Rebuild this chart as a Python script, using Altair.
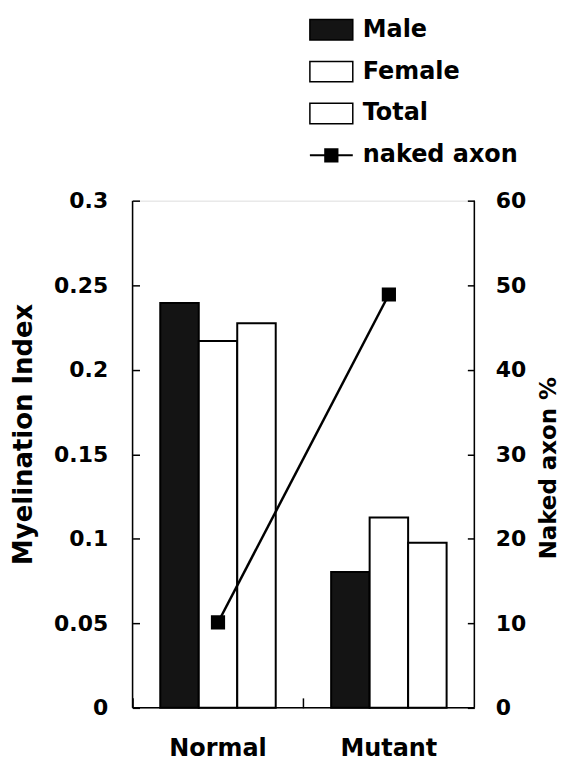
import altair as alt
import pandas as pd

groups = ["Normal", "Mutant"]
series = ["Male", "Female", "Total"]
male = [0.2395, 0.0803]
female = [0.217, 0.1126]
total = [0.2275, 0.0977]
naked_axon = [10.1, 48.9]

W, H = 343, 509
FONT = "DejaVu Sans"

rows = []
for i, g in enumerate(groups):
    for s, vals in zip(series, [male, female, total]):
        rows.append({"group": g, "sex": s, "value": vals[i]})
bars_df = pd.DataFrame(rows)
line_df = pd.DataFrame({"group": groups, "pct": naked_axon, "series": ["naked axon"] * 2})
one = pd.DataFrame({"k": [0]})

xscale = alt.Scale(domain=groups, paddingInner=0, paddingOuter=0)
xaxis = alt.Axis(title=None, offset=-10, domain=False, tickSize=10, tickColor="black",
                 tickWidth=1.5, bandPosition=0, labelFont=FONT, labelFontSize=24,
                 labelFontWeight="bold", labelColor="black", labelPadding=29, labelAngle=0)

bars = alt.Chart(bars_df).mark_bar(stroke="black", strokeWidth=2).encode(
    x=alt.X("group:N", scale=xscale, axis=xaxis, sort=groups),
    xOffset=alt.XOffset("sex:N", scale=alt.Scale(domain=series, paddingInner=0, paddingOuter=0.72)),
    y=alt.Y("value:Q", scale=alt.Scale(domain=[0, 0.3], nice=False),
            axis=alt.Axis(values=[0, 0.05, 0.1, 0.15, 0.2, 0.25, 0.3], format="~g",
                          title="Myelination Index",
                          offset=-7, domain=False, tickSize=7, tickColor="black", tickWidth=1.5,
                          grid=False, labelFont=FONT, labelFontSize=22, labelFontWeight="bold",
                          labelColor="black", labelPadding=25,
                          titleFont=FONT, titleFontSize=26, titleFontWeight="bold", titleColor="black",
                          titleX=-116, titleY=234, titleAngle=-90, titleAlign="center",
                          titleBaseline="middle")),
    fill=alt.Fill("sex:N", scale=alt.Scale(domain=series, range=["#141414", "white", "white"]),
                  legend=alt.Legend(title=None, orient="none", legendX=178, legendY=-193,
                                    symbolType="M-1.05,-0.5H1.05V0.5H-1.05Z", symbolSize=1681,
                                    symbolStrokeColor="black", symbolStrokeWidth=1.5,
                                    labelFont=FONT, labelFontSize=24, labelFontWeight="bold",
                                    labelColor="black", labelOffset=10, rowPadding=7, padding=0)),
)

line = alt.Chart(line_df).mark_line(
    strokeWidth=2.5,
    point=alt.OverlayMarkDef(shape="square", size=150, filled=True, fill="black", stroke="black"),
).encode(
    x=alt.X("group:N", scale=xscale, axis=xaxis, sort=groups),
    y=alt.Y("pct:Q", scale=alt.Scale(domain=[0, 60], nice=False),
            axis=alt.Axis(values=[0, 10, 20, 30, 40, 50, 60], title="Naked axon %", orient="right",
                          offset=-7, domain=False, tickSize=7, tickColor="black", tickWidth=1.5,
                          grid=False, labelFont=FONT, labelFontSize=22, labelFontWeight="bold",
                          labelColor="black", labelPadding=21,
                          titleFont=FONT, titleFontSize=23, titleFontWeight="bold", titleColor="black",
                          titleX=81, titleY=268, titleAngle=-90, titleAlign="center",
                          titleBaseline="middle")),
    stroke=alt.Stroke("series:N", scale=alt.Scale(domain=["naked axon"], range=["black"]),
                      legend=alt.Legend(title=None, orient="none", legendX=178, legendY=-67,
                                        symbolType="M-1.05,0H1.05M-0.3,-0.3H0.3V0.3H-0.3Z",
                                        symbolSize=1681, symbolFillColor="black",
                                        symbolStrokeColor="black", symbolStrokeWidth=2,
                                        labelFont=FONT, labelFontSize=24, labelFontWeight="bold",
                                        labelColor="black", labelOffset=10, padding=0)),
)

left_rule = alt.Chart(one).mark_rule(color="black", strokeWidth=1.5).encode(
    x=alt.value(0), y=alt.value(0), y2=alt.value(H))
right_rule = alt.Chart(one).mark_rule(color="black", strokeWidth=1.5).encode(
    x=alt.value(W), y=alt.value(0), y2=alt.value(H))
bottom_rule = alt.Chart(one).mark_rule(color="black", strokeWidth=1.5).encode(
    x=alt.value(0), x2=alt.value(W), y=alt.value(H))

chart = alt.layer(bars, line, left_rule, right_rule, bottom_rule).resolve_scale(
    y="independent"
).properties(
    width=W, height=H,
    autosize=alt.AutoSizeParams(type="none"),
    padding={"left": 125, "top": 192, "right": 90, "bottom": 53},
).configure_view(stroke=None).configure(background="white")

chart.save("out.html", embed_options={"renderer": "svg", "actions": False})
